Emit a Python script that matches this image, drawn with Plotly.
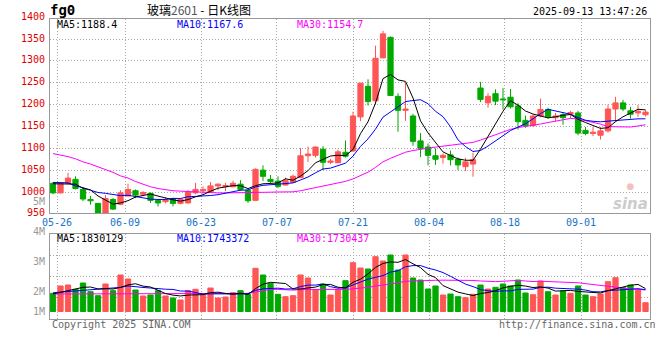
import plotly.graph_objects as go

# ---------------- data ----------------
date_labels = ['05-26', '06-09', '06-23', '07-07', '07-21', '08-04', '08-18', '09-01']

open_ = [1020, 998, 1020, 1029, 1006, 983, 974, 952, 983, 972,
         991, 1003, 995, 997, 981, 978, 985, 974, 975, 998,
         1003, 1000, 1014, 1012, 1012, 1018, 1004, 981, 1050, 1029,
         1025, 1016, 1022, 1033, 1083, 1084, 1098, 1068, 1067, 1091,
         1094, 1172, 1242, 1209, 1307, 1354, 1219, 1187, 1174, 1117,
         1103, 1083, 1079, 1085, 1075, 1058, 1064, 1238, 1204, 1225,
         1213, 1217, 1197, 1164, 1152, 1174, 1189, 1170, 1177, 1178,
         1181, 1141, 1134, 1130, 1140, 1190, 1204, 1186, 1181, 1177]
high = [1023, 1023, 1044, 1036, 1011, 991, 975, 993, 986, 1004,
        1019, 1006, 1002, 999, 984, 987, 987, 986, 1005, 1021,
        1013, 1023, 1020, 1021, 1026, 1027, 1005, 1054, 1061, 1039,
        1036, 1033, 1040, 1101, 1104, 1104, 1105, 1076, 1097, 1118,
        1184, 1250, 1258, 1335, 1369, 1356, 1226, 1250, 1179, 1135,
        1111, 1100, 1088, 1095, 1079, 1078, 1090, 1252, 1226, 1235,
        1238, 1236, 1203, 1175, 1178, 1214, 1193, 1181, 1182, 1186,
        1186, 1149, 1149, 1149, 1200, 1218, 1211, 1195, 1199, 1188]
low = [995, 997, 1018, 1006, 979, 971, 950, 951, 959, 970,
       990, 986, 991, 975, 967, 974, 967, 972, 974, 995,
       995, 999, 1004, 1002, 1011, 1003, 975, 980, 1025, 1019,
       1009, 1015, 1021, 1032, 1069, 1079, 1050, 1064, 1066, 1079,
       1093, 1162, 1198, 1200, 1306, 1220, 1138, 1163, 1106, 1080,
       1061, 1062, 1065, 1061, 1050, 1048, 1035, 1206, 1193, 1199,
       1189, 1191, 1143, 1147, 1149, 1171, 1168, 1162, 1154, 1169,
       1130, 1130, 1128, 1120, 1136, 1161, 1185, 1168, 1172, 1173]
close = [998, 1021, 1032, 1008, 984, 980, 951, 985, 961, 998,
         1006, 993, 999, 981, 975, 982, 974, 983, 1000, 1006,
         1006, 1014, 1018, 1015, 1020, 1006, 980, 1052, 1036, 1024,
         1013, 1026, 1036, 1083, 1087, 1103, 1068, 1071, 1092, 1082,
         1174, 1249, 1207, 1306, 1362, 1221, 1187, 1190, 1116, 1100,
         1084, 1075, 1084, 1074, 1062, 1069, 1074, 1212, 1219, 1208,
         1211, 1195, 1161, 1152, 1174, 1189, 1172, 1174, 1170, 1182,
         1135, 1134, 1137, 1140, 1190, 1204, 1190, 1178, 1185, 1183]
volume = [1456000, 2040000, 2120000, 1776000, 2280000, 1584000, 1264000, 2200000, 1664000, 2920000,
          2600000, 1720000, 1240000, 1320000, 1664000, 1240000, 1080000, 920000, 1664000, 1776000,
          1320000, 1880000, 1080000, 1160000, 1504000, 1664000, 1376000, 3456000, 2920000, 2256000,
          1376000, 1184000, 1264000, 2920000, 2680000, 1720000, 2200000, 1320000, 1776000, 2464000,
          3904000, 3480000, 3400000, 4384000, 4040000, 4520000, 3320000, 4520000, 2680000, 2520000,
          1800000, 2040000, 1320000, 1400000, 1184000, 1104000, 1376000, 2120000, 1800000, 1936000,
          2200000, 2040000, 2520000, 1480000, 1344000, 2440000, 1584000, 1320000, 1640000, 1456000,
          2040000, 1320000, 1184000, 1400000, 2384000, 2704000, 1904000, 2120000, 1720000, 704000]

# moving-average values at the start of the window (need history before the chart)
ma5_head = [1019, 1019, 1019, 1018]
ma10_head = [1022, 1022, 1021, 1014, 1010, 1004, 999, 997, 994]
ma30_head = [1088, 1085, 1081, 1076, 1069, 1064, 1058, 1051, 1045, 1037,
             1032, 1024, 1018, 1012, 1008, 1005, 1003, 1002, 1001, 1000,
             999, 998, 998, 998, 998, 998, 998, 998, 998]
vma5_head = [1400000, 1520000, 1640000, 1800000]
vma10_head = [1500000, 1550000, 1600000, 1650000, 1700000, 1740000, 1780000, 1830000, 1880000]
vma30_head = [1400000] * 19 + [1450000] * 8 + [1550000, 1650000]

price_ticks = [1400, 1350, 1300, 1250, 1200, 1150, 1100, 1050, 1000, 950]
vol_tick_labels = ['4M', '3M', '2M', '1M']

ma_texts = ['MA5:1188.4', 'MA10:1167.6', 'MA30:1154.7']
vma_texts = ['MA5:1830129', 'MA10:1743372', 'MA30:1730437']


def moving_average(values, n, head):
    out = list(head)
    for i in range(len(head), len(values)):
        out.append(sum(values[i - n + 1:i + 1]) / n)
    return out


ma5 = moving_average(close, 5, ma5_head)
ma10 = moving_average(close, 10, ma10_head)
ma30 = moving_average(close, 30, ma30_head)
vma5 = moving_average(volume, 5, vma5_head)
vma10 = moving_average(volume, 10, vma10_head)
vma30 = moving_average(volume, 30, vma30_head)

# ---------------- styling ----------------
W, H = 660, 360
UP, DOWN = '#ff5555', '#00a800'
C_MA5, C_MA10, C_MA30 = '#000000', '#0000ff', '#ff00ff'
MONO = 'DejaVu Sans Mono'
grid_x = [0.55, 9.6, 19.75, 29.85, 40, 50.15, 60.25, 70.4]   # gridline positions (x units)

PLOT_TOP, PLOT_BOT = 19, 213          # price panel, pixels
VOL_TOP, VOL_BOT = 234, 319           # volume panel, pixels
price_lo, price_hi = 952, 1396
vol_lo, vol_hi = -600000, 6200000


def px(x):
    return x / W


def py(y):
    return 1 - y / H


def price_pix(v):
    return PLOT_BOT - (v - price_lo) * (PLOT_BOT - PLOT_TOP) / (price_hi - price_lo)


n = len(close)
idx = list(range(n))
is_up = [c >= o for o, c in zip(open_, close)]
cols = [UP if u else DOWN for u in is_up]
body_base = [min(o, c) for o, c in zip(open_, close)]
body_h = [abs(c - o) for o, c in zip(open_, close)]

wx = {True: [], False: []}
wy = {True: [], False: []}
for i in idx:
    wx[is_up[i]] += [i, i, None]
    wy[is_up[i]] += [low[i], high[i], None]

fig = go.Figure()
for u in (True, False):
    fig.add_trace(go.Scatter(x=wx[u], y=wy[u], mode='lines',
                             line=dict(color=UP if u else DOWN, width=1),
                             hoverinfo='skip', showlegend=False, xaxis='x', yaxis='y'))
fig.add_trace(go.Bar(x=idx, y=body_h, base=body_base, width=0.7,
                     marker=dict(color=cols, line=dict(color=cols, width=1)),
                     showlegend=False, xaxis='x', yaxis='y'))
for vals, c in ((ma30, C_MA30), (ma10, C_MA10), (ma5, C_MA5)):
    fig.add_trace(go.Scatter(x=idx, y=vals, mode='lines', line=dict(color=c, width=1),
                             showlegend=False, hoverinfo='skip', xaxis='x', yaxis='y'))

fig.add_trace(go.Bar(x=idx, y=volume, width=0.7,
                     marker=dict(color=cols, line=dict(color=cols, width=1)),
                     showlegend=False, xaxis='x2', yaxis='y2'))
for vals, c in ((vma30, C_MA30), (vma10, C_MA10), (vma5, C_MA5)):
    fig.add_trace(go.Scatter(x=idx, y=vals, mode='lines', line=dict(color=c, width=1),
                             showlegend=False, hoverinfo='skip', xaxis='x2', yaxis='y2'))

axis_common = dict(showticklabels=False, ticks='', showgrid=True, gridcolor='#a8a8a8',
                   griddash='1px,2px', gridwidth=1, zeroline=False, showline=True,
                   mirror=True, linecolor='#999999', linewidth=1, fixedrange=True)

fig.update_layout(
    width=W, height=H, margin=dict(l=0, r=0, t=0, b=0),
    paper_bgcolor='white', plot_bgcolor='white', barmode='overlay', showlegend=False,
    xaxis=dict(domain=[px(50), px(650)], range=[-0.4, 79.6], tickvals=grid_x, anchor='y', **axis_common),
    yaxis=dict(domain=[py(PLOT_BOT), py(PLOT_TOP)], range=[price_lo, price_hi],
               tickvals=[1000, 1050, 1100, 1150, 1200, 1250, 1300, 1350], anchor='x', **axis_common),
    xaxis2=dict(domain=[px(50), px(650)], range=[-0.4, 79.6], tickvals=grid_x, anchor='y2', **axis_common),
    yaxis2=dict(domain=[py(VOL_BOT), py(VOL_TOP)], range=[vol_lo, vol_hi],
                tickvals=[1160000, 2840000, 4520000], anchor='x2', **axis_common),
)

ann = []


def text(x, y, s, color='#000', size=10, xanchor='left', family=MONO, xref='paper', yref='paper'):
    ann.append(dict(x=x, y=y, xref=xref, yref=yref, text=s, showarrow=False, xanchor=xanchor,
                    yanchor='middle', font=dict(family=family, size=size, color=color)))


for v in price_ticks:
    text(px(47), py(price_pix(v) - 1), str(v), color='#e00000', xanchor='right')
text(px(47), py(201), '5M', color='#999999', xanchor='right')
for lab, y in zip(vol_tick_labels, [231, 261, 291, 311]):
    text(px(47), py(y), lab, color='#999999', xanchor='right')
for lab, x in zip(date_labels, grid_x):
    text(x, py(222), lab, color='#1a73c8', xanchor='center', xref='x')

for s, c, x in zip(ma_texts, (C_MA5, C_MA10, C_MA30), (55, 175, 295)):
    text(px(x), py(25), s, color=c)
for s, c, x in zip(vma_texts, (C_MA5, C_MA10, C_MA30), (55, 175, 295)):
    text(px(x), py(238), s, color=c)

text(px(48), py(10), '<b>fg0</b>', size=14)
text(px(199), py(9.5), '玻璃<span style="color:#555">2601</span> - 日K线图', size=12,
     xanchor='center', family='Noto Sans CJK SC')
text(px(649), py(12), '2025-09-13 13:47:26', xanchor='right')
text(px(50), py(324), 'Copyright 2025 SINA.COM', color='#666666')
text(px(658), py(324), 'http://finance.sina.com.cn', color='#666666', xanchor='right')
text(px(630), py(197), '<span style="color:#f5c0c0;font-size:9px">●</span><br><b><i>sina</i></b>',
     color='#cccccc', size=15, xanchor='center', family='DejaVu Sans')

fig.update_layout(annotations=ann)
fig.write_html('out.html', config={'displayModeBar': False},
               post_script="document.body.style.margin='0';document.documentElement.style.margin='0';"
                           "document.body.style.overflow='hidden';")
